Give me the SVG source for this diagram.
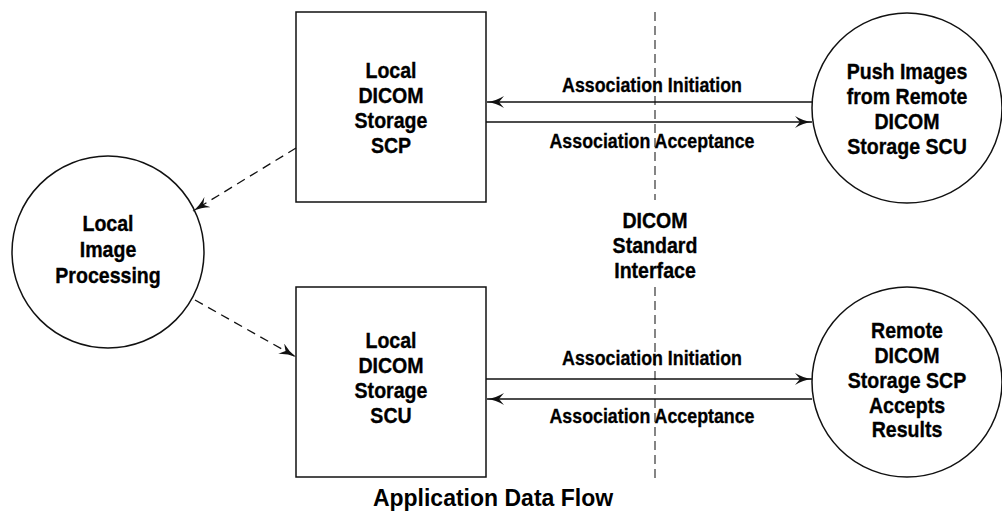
<svg xmlns="http://www.w3.org/2000/svg" width="1002" height="519" viewBox="0 0 1002 519">
<style>
.shape{fill:#fff;stroke:#111;stroke-width:1.5}
.t{font-family:"Liberation Sans",Arial,sans-serif;font-weight:bold;font-size:22px;fill:#000;stroke:#000;stroke-width:0.35;text-anchor:middle}
.lbl{font-family:"Liberation Sans",Arial,sans-serif;font-weight:bold;font-size:20px;fill:#000;stroke:#000;stroke-width:0.3;text-anchor:middle}
.title{font-family:"Liberation Sans",Arial,sans-serif;font-weight:bold;font-size:23px;fill:#000;text-anchor:middle}
.solid{stroke:#111;stroke-width:1.5;fill:none}
.dash{stroke:#111;stroke-width:1.3;fill:none;stroke-dasharray:9,6}
.divider{stroke:#444;stroke-width:1.3;fill:none;stroke-dasharray:9,5}
</style>
<defs>
<marker id="arr" markerUnits="userSpaceOnUse" markerWidth="20" markerHeight="14" refX="17" refY="6" orient="auto">
<path d="M0,0 Q8,4.8 17,6 Q8,7.2 0,12 L5,6 Z" fill="#111"/>
</marker>
</defs>
<g id="divider">
<line class="divider" x1="655" y1="12" x2="655" y2="200"/>
<line class="divider" x1="655" y1="287" x2="655" y2="478"/>
</g>
<g id="interface-label">
<g transform="translate(655,0) scale(0.89,1)">
<text class="t" x="0" y="228">DICOM</text>
<text class="t" x="0" y="253">Standard</text>
<text class="t" x="0" y="278">Interface</text>
</g>
</g>
<g id="scp-box">
<rect class="shape" x="296" y="12" width="190" height="190"/>
<g transform="translate(391,0) scale(0.89,1)">
<text class="t" x="0" y="78">Local</text>
<text class="t" x="0" y="103">DICOM</text>
<text class="t" x="0" y="128">Storage</text>
<text class="t" x="0" y="153">SCP</text>
</g>
</g>
<g id="scu-box">
<rect class="shape" x="296" y="287" width="190" height="190"/>
<g transform="translate(391,0) scale(0.89,1)">
<text class="t" x="0" y="348">Local</text>
<text class="t" x="0" y="373">DICOM</text>
<text class="t" x="0" y="398">Storage</text>
<text class="t" x="0" y="423">SCU</text>
</g>
</g>
<g id="local-processing">
<circle class="shape" cx="108" cy="252" r="96"/>
<g transform="translate(108,0) scale(0.89,1)">
<text class="t" x="0" y="231">Local</text>
<text class="t" x="0" y="257">Image</text>
<text class="t" x="0" y="283">Processing</text>
</g>
</g>
<g id="remote-scu">
<circle class="shape" cx="907" cy="108" r="95"/>
<g transform="translate(907,0) scale(0.89,1)">
<text class="t" x="0" y="79">Push Images</text>
<text class="t" x="0" y="104">from Remote</text>
<text class="t" x="0" y="129">DICOM</text>
<text class="t" x="0" y="154">Storage SCU</text>
</g>
</g>
<g id="remote-scp">
<circle class="shape" cx="907" cy="382" r="95"/>
<g transform="translate(907,0) scale(0.89,1)">
<text class="t" x="0" y="338">Remote</text>
<text class="t" x="0" y="363">DICOM</text>
<text class="t" x="0" y="388">Storage SCP</text>
<text class="t" x="0" y="413">Accepts</text>
<text class="t" x="0" y="437">Results</text>
</g>
</g>
<g id="connectors">
<line class="dash" x1="296" y1="148" x2="193" y2="211" marker-end="url(#arr)"/>
<line class="dash" x1="195" y1="300" x2="296" y2="357" marker-end="url(#arr)"/>
<line class="solid" x1="812" y1="102" x2="487" y2="102" marker-end="url(#arr)"/>
<line class="solid" x1="486" y1="122" x2="812" y2="122" marker-end="url(#arr)"/>
<line class="solid" x1="486" y1="379" x2="812" y2="379" marker-end="url(#arr)"/>
<line class="solid" x1="812" y1="399" x2="487" y2="399" marker-end="url(#arr)"/>
<g transform="translate(652,0) scale(0.89,1)">
<text class="lbl" x="0" y="92">Association Initiation</text>
<text class="lbl" x="0" y="148">Association Acceptance</text>
<text class="lbl" x="0" y="365">Association Initiation</text>
<text class="lbl" x="0" y="423">Association Acceptance</text>
</g>
</g>
<text class="title" x="493" y="506">Application Data Flow</text>
</svg>
